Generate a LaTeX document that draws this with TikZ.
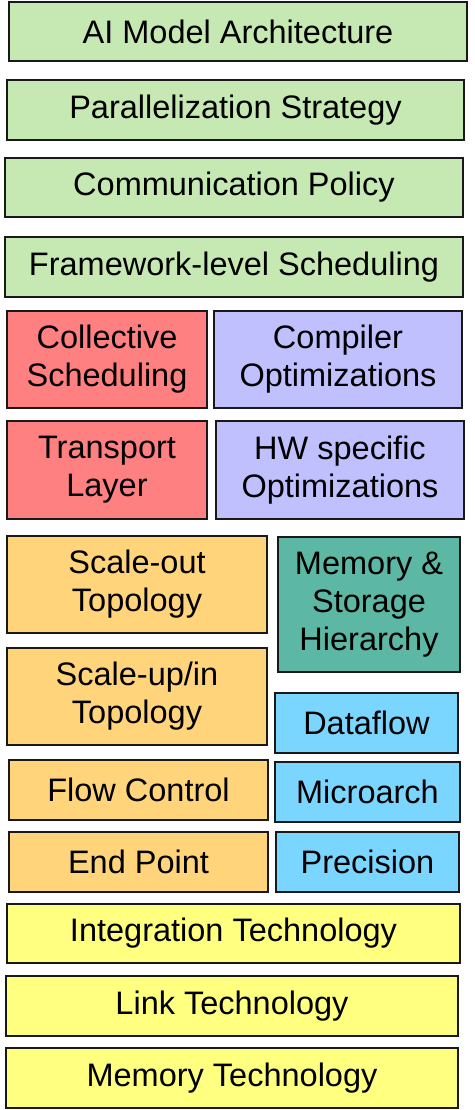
\documentclass[tikz,border=0pt]{standalone}
\usepackage{fontspec}
\setmainfont{Liberation Sans}
\definecolor{cgreen}{RGB}{198,232,178}
\definecolor{cred}{RGB}{255,128,128}
\definecolor{cviolet}{RGB}{192,192,255}
\definecolor{corange}{RGB}{255,212,122}
\definecolor{cteal}{RGB}{92,184,164}
\definecolor{cblue}{RGB}{122,214,255}
\definecolor{cyellow}{RGB}{255,255,128}
\tikzset{
  layer/.style={draw=black!90, line width=1.8pt, rectangle, inner sep=0pt,
    align=center, font=\fontsize{32.5}{38}\selectfont},
}
% layer box from its corners (x1,y1)-(x2,y2) in pixel units
\newcommand{\layerbox}[7]{%
  \node[layer, fill=#2, minimum width={(#5-#3)*1pt}, minimum height={(#6-#4)*1pt}]
    (#1) at ({(#3+#5)/2}, {(#4+#6)/2}) {#7};}
\begin{document}
\begin{tikzpicture}[x=1pt, y=-1pt]
\useasboundingbox (0,0) rectangle (474,1110);
\layerbox{ai}{cgreen}{9}{2}{467}{61}{AI Model Architecture}
\layerbox{par}{cgreen}{7}{80}{464}{140}{Parallelization Strategy}
\layerbox{comm}{cgreen}{5}{158}{463}{217}{Communication Policy}
\layerbox{fw}{cgreen}{5}{237}{463}{297}{Framework-level Scheduling}
\layerbox{coll}{cred}{7}{311}{207}{408}{Collective\\Scheduling}
\layerbox{comp}{cviolet}{214}{311}{462}{408}{Compiler\\Optimizations}
\layerbox{trans}{cred}{7}{421}{207}{519}{Transport\\Layer}
\layerbox{hw}{cviolet}{216}{421}{464}{519}{HW specific\\Optimizations}
\layerbox{sout}{corange}{7}{536}{267}{633}{Scale-out\\Topology}
\layerbox{mem}{cteal}{278}{537}{460}{672}{Memory \&\\Storage\\Hierarchy}
\layerbox{sup}{corange}{7}{648}{267}{745}{Scale-up/in\\Topology}
\layerbox{df}{cblue}{275}{693}{458}{753}{Dataflow}
\layerbox{fc}{corange}{9}{760}{268}{820}{Flow Control}
\layerbox{ua}{cblue}{275}{762}{460}{822}{Microarch}
\layerbox{ep}{corange}{9}{832}{268}{892}{End Point}
\layerbox{prec}{cblue}{276}{832}{459}{892}{Precision}
\layerbox{integ}{cyellow}{7}{904}{460}{963}{Integration Technology}
\layerbox{link}{cyellow}{6}{976}{458}{1036}{Link Technology}
\layerbox{memt}{cyellow}{6}{1048}{458}{1108}{Memory Technology}
\end{tikzpicture}
\end{document}
